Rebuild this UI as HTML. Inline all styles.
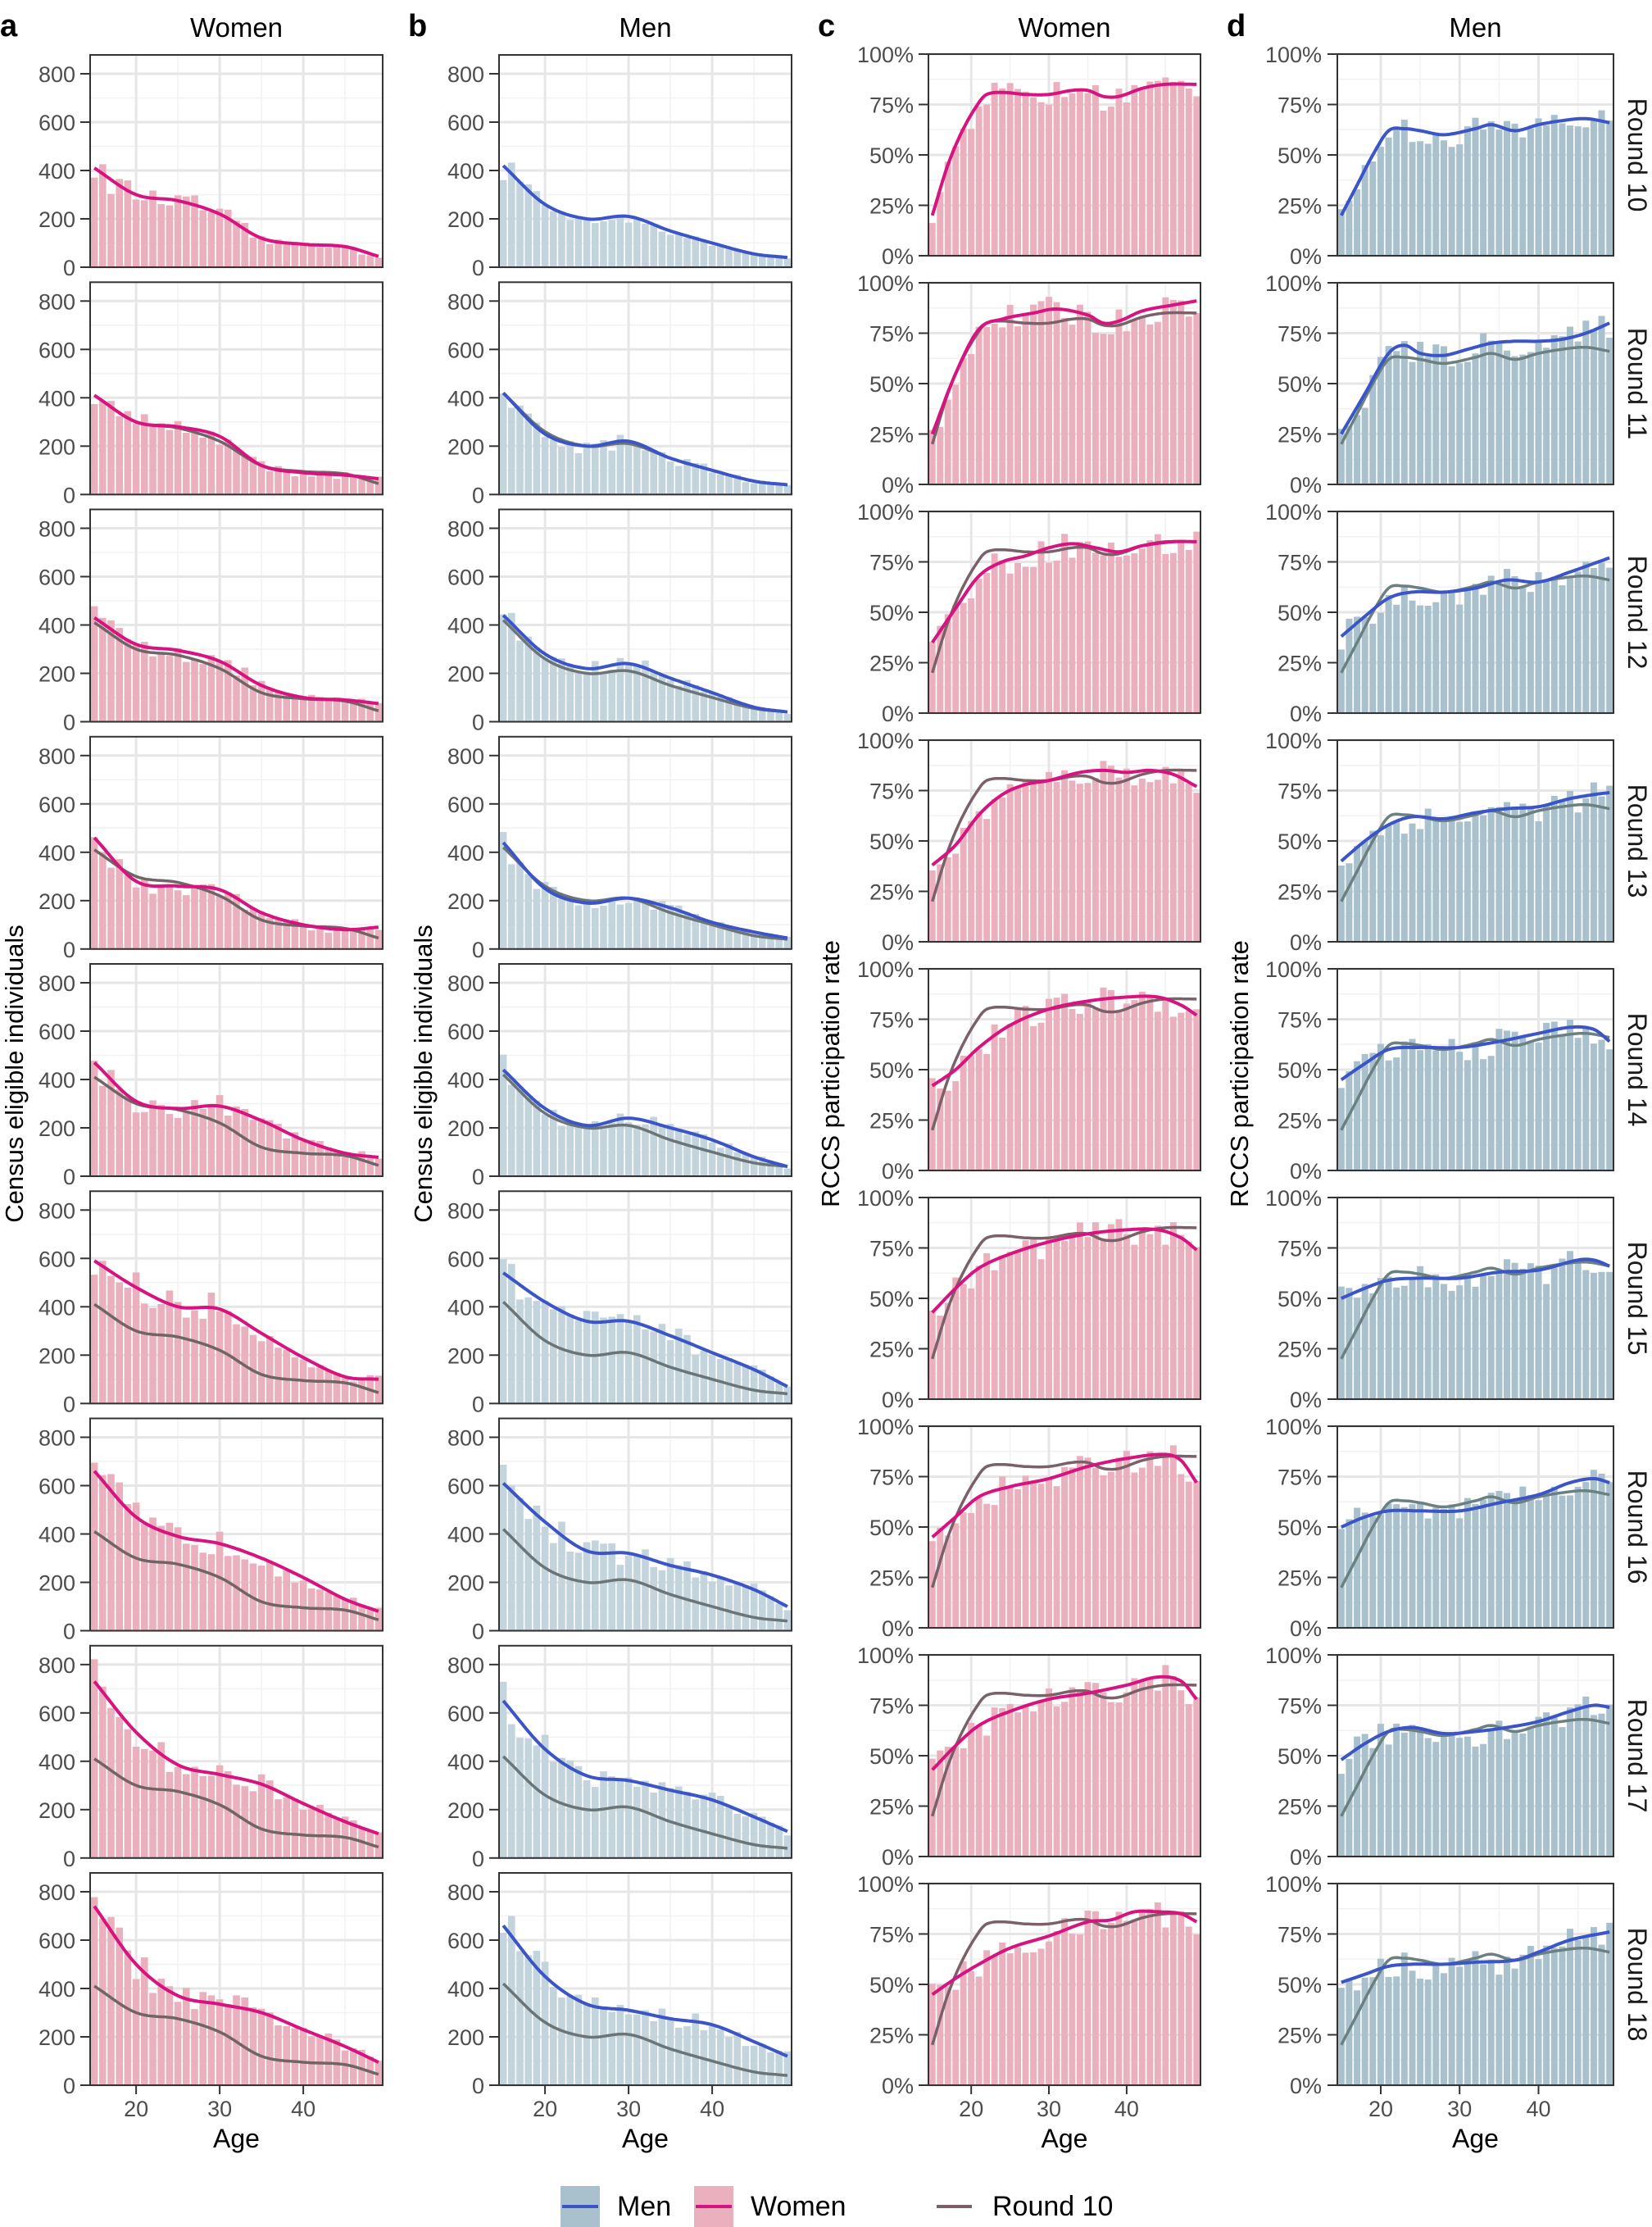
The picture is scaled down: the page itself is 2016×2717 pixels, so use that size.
<!DOCTYPE html>
<html><head><meta charset="utf-8">
<style>
html,body{margin:0;padding:0;background:#fff;}
svg{display:block;}
text{font-family:"Liberation Sans",Arial,sans-serif;}
</style></head>
<body>
<svg id="s" width="2016" height="2717" viewBox="0 0 2016 2717" xmlns="http://www.w3.org/2000/svg"></svg>
<script>
(function(){
var S=document.getElementById('s');
var out=[];
function interp(pts,x){
  // Catmull-Rom through points
  var n=pts.length;
  if(x<=pts[0][0])return pts[0][1];
  if(x>=pts[n-1][0])return pts[n-1][1];
  var i=0;while(i<n-2&&x>pts[i+1][0])i++;
  var p0=pts[Math.max(0,i-1)],p1=pts[i],p2=pts[i+1],p3=pts[Math.min(n-1,i+2)];
  var t=(x-p1[0])/(p2[0]-p1[0]);
  var m1=(p2[1]-p0[1])/(p2[0]-p0[0])*(p2[0]-p1[0]);
  var m2=(p3[1]-p1[1])/(p3[0]-p1[0])*(p2[0]-p1[0]);
  var t2=t*t,t3=t2*t;
  return (2*t3-3*t2+1)*p1[1]+(t3-2*t2+t)*m1+(-2*t3+3*t2)*p2[1]+(t3-t2)*m2;
}
function toPts(arr){var ages=[15,20,25,30,35,40,45,49];return arr.map(function(v,i){return[ages[i],v];});}
var seed=12345;
function rnd(){seed=(seed*16807)%2147483647;return (seed-1)/2147483646;}

var A=[[410,300,275,220,120,95,85,45],[410,300,280,240,120,90,80,65],[430,320,295,250,150,100,90,75],
[460,280,260,245,150,100,80,90],[470,310,280,290,230,150,95,78],[590,480,400,390,290,190,110,100],
[660,470,390,360,300,220,130,80],[730,520,385,345,305,225,150,100],[740,500,370,335,300,230,160,95]];
var B=[[420,260,200,210,150,100,55,40],[420,250,200,220,150,100,55,40],[440,280,220,240,180,120,60,40],
[440,250,190,210,170,110,70,45],[440,280,210,240,200,150,80,40],[540,420,340,340,280,210,140,70],
[610,450,330,320,270,230,170,100],[650,450,340,320,280,240,170,110],[660,450,335,310,275,250,180,120]];
var C=[
[[15,20],[17,45],[19,63],[21,76],[22,80],[24,81],[27,80],[30,80],[33,82],[35,82],[37,79],[39,79],[42,83],[45,85],[49,85]],
[[15,25],[18,55],[21,77],[24,82],[28,85],[31,87],[35,84],[37,80],[39,81],[42,86],[46,89],[49,91]],
[[15,35],[18,52],[21,68],[24,75],[27,78],[30,82],[33,84],[36,82],[39,80],[42,83],[46,85],[49,85]],
[[15,38],[18,48],[21,63],[24,73],[27,78],[30,80],[34,84],[37,85],[40,84],[43,85],[46,83],[49,77]],
[[15,42],[18,50],[21,61],[25,72],[30,80],[35,84],[40,86],[44,86],[47,82],[49,77]],
[[15,43],[18,55],[21,65],[25,72],[30,78],[35,82],[40,84],[44,84],[47,80],[49,74]],
[[15,45],[18,55],[21,65],[25,70],[30,74],[35,80],[40,84],[45,86],[47,83],[49,72]],
[[15,43],[18,55],[21,65],[25,72],[30,78],[35,81],[40,85],[44,89],[47,87],[49,78]],
[[15,45],[18,53],[21,60],[25,68],[30,74],[35,81],[38,82],[41,86],[44,86],[47,85],[49,81]]];
var D=[
[[15,20],[17,35],[19,50],[21,62],[23,63],[25,62],[28,60],[32,63],[34,65],[37,62],[40,65],[43,67],[46,68],[49,66]],
[[15,25],[18,45],[21,65],[23,69],[25,65],[28,64],[31,67],[34,70],[37,71],[40,71],[43,72],[46,75],[49,80]],
[[15,38],[18,48],[21,57],[24,60],[28,60],[32,62],[36,66],[40,65],[44,70],[49,77]],
[[15,40],[18,50],[21,58],[24,62],[28,61],[32,64],[36,66],[40,67],[44,71],[47,73],[49,74]],
[[15,45],[18,53],[21,60],[25,61],[30,61],[35,64],[40,68],[44,71],[47,70],[49,64]],
[[15,50],[18,55],[21,59],[25,60],[30,60],[35,63],[40,64],[45,69],[47,69],[49,66]],
[[15,50],[18,55],[21,58],[25,58],[30,58],[35,62],[40,66],[44,72],[47,74],[49,72]],
[[15,48],[18,56],[21,62],[24,64],[28,61],[32,62],[36,64],[40,67],[44,72],[47,75],[49,74]],
[[15,51],[18,55],[21,59],[24,60],[28,60],[32,61],[37,62],[40,66],[44,72],[49,76]]];

var cols=[
 {x0:110,x1:467,type:'n',data:A,bar:'#eab0bd',line:'#d6137f',ref:'#6f6466',lab:92,x20:166},
 {x0:609,x1:966,type:'n',data:B,bar:'#c3d4dc',line:'#3b55c6',ref:'#6b7477',lab:591},
 {x0:1133,x1:1465,type:'p',data:C,bar:'#ebb0bd',line:'#d6137f',ref:'#7a6068',lab:1115},
 {x0:1632,x1:1969,type:'p',data:D,bar:'#a9c1cd',line:'#3b55c6',ref:'#6b8080',lab:1613}];

function f(v){return Math.round(v*10)/10;}
cols.forEach(function(c,ci){
 var W=c.x1-c.x0;
 function X(a){return c.x0+(a-14.5)/35*W;}
 for(var r=0;r<9;r++){
  var top,H,Y,ymaxv;
  if(c.type=='n'){top=67+r*277.25;H=259;ymaxv=878;}
  else{top=66+r*279;H=246;ymaxv=100;}
  var bot=top+H;
  Y=function(v){return bot-v/ymaxv*H;};
  out.push('<rect x="'+c.x0+'" y="'+f(top)+'" width="'+W+'" height="'+H+'" fill="#fff"/>');
  // grid
  var minorY=c.type=='n'?[100,300,500,700]:[12.5,37.5,62.5,87.5];
  var majorY=c.type=='n'?[0,200,400,600,800]:[0,25,50,75,100];
  minorY.forEach(function(v){out.push('<line x1="'+c.x0+'" x2="'+c.x1+'" y1="'+f(Y(v))+'" y2="'+f(Y(v))+'" stroke="#f2f2f2" stroke-width="1.5"/>');});
  [17.5,25,35,45].forEach(function(a){if(a==17.5)return;out.push('<line y1="'+f(top)+'" y2="'+f(bot)+'" x1="'+f(X(a))+'" x2="'+f(X(a))+'" stroke="#f2f2f2" stroke-width="1.5"/>');});
  majorY.forEach(function(v){out.push('<line x1="'+c.x0+'" x2="'+c.x1+'" y1="'+f(Y(v))+'" y2="'+f(Y(v))+'" stroke="#e6e6e6" stroke-width="3"/>');});
  [20,30,40].forEach(function(a){out.push('<line y1="'+f(top)+'" y2="'+f(bot)+'" x1="'+f(X(a))+'" x2="'+f(X(a))+'" stroke="#e6e6e6" stroke-width="3"/>');});
  // curve
  var pts=c.type=='n'?toPts(c.data[r]):c.data[r];
  var refp=c.type=='n'?toPts(c.data[0]):c.data[0];
  // bars
  var bw=W/35;
  for(var a=15;a<=49;a++){
   var base=interp(pts,a);
   var nz=c.type=='n'?(rnd()-0.5)*0.28*base+(rnd()-0.5)*20:(rnd()-0.55)*14;
   var v=Math.max(0,Math.min(c.type=='n'?ymaxv:99,base+nz));
   var yb=Y(v);
   out.push('<rect x="'+f(X(a-0.5)+0.8)+'" y="'+f(yb)+'" width="'+f(bw-1.6)+'" height="'+f(bot-yb)+'" fill="'+c.bar+'"/>');
  }
  function path(p){var d='';for(var t=15;t<=49.001;t+=0.25){d+=(d?'L':'M')+f(X(t))+','+f(Y(interp(p,t)));}return d;}
  if(r>0) out.push('<path d="'+path(refp)+'" fill="none" stroke="'+c.ref+'" stroke-width="3.5" stroke-linejoin="round"/>');
  out.push('<path d="'+path(pts)+'" fill="none" stroke="'+c.line+'" stroke-width="4" stroke-linejoin="round"/>');
  // border
  out.push('<rect x="'+c.x0+'" y="'+f(top)+'" width="'+W+'" height="'+H+'" fill="none" stroke="#333" stroke-width="2"/>');
  // y ticks
  majorY.forEach(function(v){
   var yy=f(Y(v));
   out.push('<line x1="'+(c.x0-12)+'" x2="'+c.x0+'" y1="'+yy+'" y2="'+yy+'" stroke="#333" stroke-width="2"/>');
   var lab=c.type=='n'?String(v):v+'%';
   out.push('<text x="'+c.lab+'" y="'+f(Y(v)+10)+'" font-size="27" fill="#4d4d4d" text-anchor="end">'+lab+'</text>');
  });
  if(r==8){
   [20,30,40].forEach(function(a){
    out.push('<line x1="'+f(X(a))+'" x2="'+f(X(a))+'" y1="'+bot+'" y2="'+(bot+11)+'" stroke="#333" stroke-width="2"/>');
    out.push('<text x="'+f(X(a))+'" y="'+f(bot+38)+'" font-size="27" fill="#4d4d4d" text-anchor="middle">'+a+'</text>');
   });
   out.push('<text x="'+f((c.x0+c.x1)/2)+'" y="'+f(bot+76)+'" font-size="32" fill="#000" text-anchor="middle">Age</text>');
  }
  if(ci==3){
   var cy=f(top+H/2);
   out.push('<text transform="translate(1987,'+cy+') rotate(90)" font-size="32" fill="#1a1a1a" text-anchor="middle">Round '+(10+r)+'</text>');
  }
 }
 var mid=(c.x0+c.x1)/2;
 out.push('<text x="'+f(mid)+'" y="45" font-size="33" fill="#000" text-anchor="middle">'+(ci%2==0?'Women':'Men')+'</text>');
});
// panel letters
[['a',0],['b',498],['c',998],['d',1497]].forEach(function(l){out.push('<text x="'+l[1]+'" y="44" font-size="38" font-weight="bold" fill="#000">'+l[0]+'</text>');});
// y axis titles
[[28,'Census eligible individuals'],[527,'Census eligible individuals'],[1024,'RCCS participation rate'],[1523,'RCCS participation rate']].forEach(function(t){
 out.push('<text transform="translate('+t[0]+',1310) rotate(-90)" font-size="31" fill="#000" text-anchor="middle">'+t[1]+'</text>');
});
// legend
out.push('<rect x="684" y="2667" width="48" height="50" fill="#a9c1cd"/>');
out.push('<line x1="686" x2="730" y1="2692" y2="2692" stroke="#3b55c6" stroke-width="4"/>');
out.push('<text x="753" y="2703" font-size="34" fill="#000">Men</text>');
out.push('<rect x="847" y="2667" width="48" height="50" fill="#ebb0bd"/>');
out.push('<line x1="849" x2="893" y1="2692" y2="2692" stroke="#d6137f" stroke-width="4"/>');
out.push('<text x="916" y="2703" font-size="34" fill="#000">Women</text>');
out.push('<line x1="1143" x2="1186" y1="2692" y2="2692" stroke="#7a6068" stroke-width="4"/>');
out.push('<text x="1211" y="2703" font-size="34" fill="#000">Round 10</text>');
S.innerHTML=out.join('');
})();
</script>
</body></html>
